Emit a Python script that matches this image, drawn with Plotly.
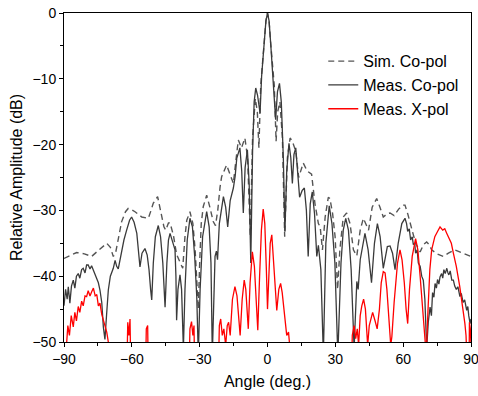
import plotly.graph_objects as go

# ---------------- data ----------------
sim_angle = [-90, -87, -84.4, -81, -77.8, -74.5, -71.1, -69.5, -68.2, -67.2, -65.5, -64.5, -62.8, -61.6,
             -60, -58.6, -55.6, -52.7, -51.5, -50.5, -48.6, -47, -45.8, -45, -43.8, -43.1, -41.6, -40.2,
             -38.7, -37.5, -36.5, -35.7, -34.3, -33, -32, -31.3, -30.6, -30, -29.3, -28.4, -26.9, -25.5,
             -24, -23, -22, -21, -20.3, -18.1, -16.5, -15.1, -14, -12.9, -11.5, -10, -8.8, -7.6, -6.6,
             -5.4, -4.5, -3.8, -3.0, -2.4, -1.4, -0.7, 0, 0.7, 1.4, 2.4, 3.0, 3.8, 4.5, 5.5, 6.6, 7.6,
             8.8, 10, 11, 12.5, 13.8, 15.8, 17.5, 19.5, 21, 22.5, 23.3, 24.3, 25.5, 26.9, 27.6, 28.8,
             29.9, 31, 32, 33.5, 35, 36.5, 38, 39.5, 41, 42.4, 43.5, 44.7, 46.3, 48.3, 49.7, 51.2, 53,
             54.2, 56, 58, 59.8, 60.8, 62, 63.8, 65.5, 67.5, 69, 70.4, 71.5, 72.6, 75, 77.8, 80, 82.9,
             86.6, 90]
sim_db = [-37.3, -36.8, -36.4, -36.6, -37.0, -36.0, -35.0, -35.6, -37.0, -36.5, -33.5, -31.7, -30.2, -29.7,
          -29.9, -30.2, -31.0, -31.2, -30.0, -28.9, -27.9, -30.5, -32.5, -33.0, -31.9, -31.9, -33.8, -36.7,
          -38.0, -38.8, -34.0, -31.5, -30.2, -32.0, -36.0, -41.6, -45.0, -38.0, -32.0, -29.4, -27.7, -29.5,
          -31.7, -32.3, -30.0, -26.5, -24.9, -23.1, -24.5, -25.9, -22.5, -19.3, -20.5, -19.0, -22.0, -34.0, -19.0,
          -13.0, -15.0, -20.5, -11.0, -8.5, -4.6, -1.2, 0.0, -1.2, -4.6, -8.5, -11.0, -19.5, -15.0, -13.5, -19.0, -34.0,
          -22.0, -19.0, -19.5, -21.0, -25.0, -22.8, -24.0, -24.5, -29.0, -32.0, -32.5, -36.0, -31.0, -28.0, -28.2, -30.5,
          -34.0, -42.0, -36.0, -31.0, -30.4, -32.0, -36.0, -36.9, -33.0, -31.2, -32.0, -33.0, -29.5, -28.2, -29.5, -31.0, -30.5,
          -30.4, -30.8, -29.8, -29.2, -29.2, -30.5, -33.0, -35.0, -36.3, -35.2, -34.8, -35.2, -36.0, -36.6, -37.0, -36.5, -36.0,
          -36.5, -37.0]

co_angle = [-90, -89.3, -88.6, -88.1, -87.4, -86.7, -85.9, -85.2, -84.5, -83.7, -83, -82.2, -81.5, -80.7,
            -80, -79.3, -78.5, -77.8, -77, -76.2, -75.5, -74.8, -74.1, -73.3, -72.6, -71.9, -71.2, -70.4,
            -69.5, -68.2, -67.4, -66.7, -66, -65.2, -64.5, -63.5, -62.3, -61, -60.1, -59, -57.8, -57,
            -56.4, -55.5, -54.2, -53.2, -52.4, -51.7, -51.2, -50.5, -49.6, -48.3, -47.3, -46.3, -45.3,
            -44.5, -43.8, -43.1, -42.2, -40.9, -40.5, -40.2, -39.6, -38.7, -38, -37.2, -36.5, -35.5,
            -34.3, -33.2, -32.2, -31.3, -30.6, -29.8, -28.7, -26.9, -25.8, -25, -24.4, -23.8, -23.2,
            -22.6, -22.1, -21.3, -19.5, -18.5, -17.6, -16.5, -15.1, -14.3, -13.6, -12.2, -11.4, -10.7,
            -9.9, -8.9, -8.1, -7.4, -6.6, -5.9, -5.2, -4.4, -3.3, -2.6, -1.4, -0.7, 0, 0.7, 1.4, 2.4,
            3.6, 4.4, 5.3, 6.1, 7, 7.7, 8.5, 9.5, 10.3, 11, 11.7, 12.5, 13.3, 14.2, 15.3, 16.3, 17.2, 18,
            18.9, 19.8, 20.8, 21.8, 22.5, 23.6, 24.7, 25.8, 27.3, 28.5, 29.8, 31.1, 32.5, 33.5, 34.6,
            35.8, 37, 38.3, 39.5, 40.1, 41, 43.1, 44.5, 46, 47.3, 48.6, 49.8, 51.2, 52.2, 53, 54.2, 55.3,
            56.4, 57.8, 59.4, 60.8, 61.5, 62, 62.7, 63.3, 64, 64.5, 65.1, 65.5, 66.2, 66.7, 67.5, 68.2,
            68.9, 69.6, 70.4, 71.1, 71.9, 72.5, 73, 73.6, 74.1, 74.7, 75.2, 75.8, 76.3, 77, 77.5, 78,
            78.6, 79.3, 79.8, 80.2, 80.8, 81.5, 82.2, 82.8, 83.5, 84.2, 85.1, 85.7, 86.5, 87.2, 88.1,
            88.6, 89, 89.6, 90]
co_db = [-44.5, -42.0, -43.5, -41.6, -44.1, -41.5, -40.6, -41.8, -40.0, -39.6, -40.3, -39.0, -38.8, -39.5,
         -38.3, -38.3, -38.9, -38.4, -39.1, -39.8, -40.6, -41.0, -42.1, -44.0, -47.7, -49.6, -46.0, -42.1,
         -40.0, -38.8, -37.6, -38.5, -38.9, -37.5, -36.0, -34.5, -33.0, -31.5, -31.0, -31.8, -33.5, -36.0,
         -38.6, -36.5, -35.8, -36.8, -39.0, -42.0, -43.6, -38.0, -34.0, -32.3, -34.0, -38.0, -44.7,
         -38.0, -34.5, -33.5, -34.5, -36.0, -40.0, -46.7, -42.0, -39.8, -42.0, -51.0, -42.0, -34.5,
         -31.2, -32.5, -37.0, -43.0, -52.0, -42.0, -34.0, -30.2, -32.5, -38.0, -52.0, -42.0, -37.0,
         -36.2, -37.5, -32.0, -27.9, -29.5, -32.5, -28.5, -26.6, -24.8, -22.1, -20.5, -24.0, -30.4,
         -23.5, -20.8, -26.0, -38.0, -21.0, -13.5, -11.4, -12.5, -15.2, -9.6, -4.6, -1.2, 0.0, -1.2, -4.6, -9.6,
         -16.2, -12.0, -10.7, -13.5, -22.0, -33.2, -24.0, -19.8, -22.0, -25.9, -21.5, -20.5, -23.5, -28.0, -27.0, -26.6, -30.0, -37.0,
         -29.0, -27.2, -30.5, -37.0, -35.3, -39.0, -52.0, -35.0, -29.3, -32.0, -38.0, -52.0, -38.0, -33.0, -31.2,
         -33.0, -39.0, -51.0, -40.8, -42.0, -37.5, -33.5, -36.0, -41.0, -35.0, -32.0, -34.0, -38.8, -37.0, -35.5, -35.4, -36.5,
         -39.0, -35.0, -32.0, -31.2, -32.0, -33.2, -32.8, -34.5, -34.0, -35.2, -35.0, -36.5, -36.0, -38.0, -38.5, -40.0,
         -40.6, -43.5, -51.0, -47.0, -44.7, -46.0, -42.5, -43.2, -41.1, -41.8, -40.5, -41.2, -40.1, -39.6, -40.3, -39.0,
         -39.6, -38.8, -39.5, -39.8, -39.2, -40.6, -40.6, -41.5, -42.0, -41.6, -43.1, -42.6, -44.0, -43.6, -45.2,
         -44.6, -46.0, -47.2, -46.5]

x_angle = [-90, -89.5, -88.8, -88.3, -87.6, -86.8, -85.9, -85.2, -84.5, -83.7, -83, -82.2, -81.5, -80.7,
           -80, -79.3, -78.5, -77.8, -77, -76.2, -75.5, -74.8, -74.1, -73.3, -72.6, -71.9, -71.1, -70.4,
           -69.8, -62.5, -61.8, -61.3, -60.8, -60.2, -54.2, -53.6, -53, -52.5, -35, -34.3, -33.6, -33,
           -32.5, -32, -22, -21.3, -20.7, -20, -19.3, -18.5, -17.8, -17.2, -16.5, -15.5, -14.4, -13.5,
           -12.8, -12.1, -11.2, -10.3, -9.6, -9, -8.5, -7.7, -6.7, -5.8, -5, -4.3, -3.5, -2.7, -1.9,
           -1.2, -0.5, 0, 0.6, 1.2, 1.9, 2.5, 3.2, 4.1, 5, 5.8, 6.5, 7, 7.7, 8.5, 9.3, 9.8, 10.3,
           36.8, 37.5, 38.3, 39, 39.7, 40.3, 41, 41.7, 42.5, 43.3, 44.3, 45, 45.8, 46.5, 47.5, 48.5,
           49.5, 50.3, 51.2, 52, 52.8, 53.6, 54.5, 55, 56, 57.5, 58.6, 59.5, 60.5, 61.3, 62, 62.8, 64,
           65.5, 66.5, 67.5, 68.5, 69.5, 70.2, 71, 71.8, 72.6, 74, 75.2, 76.3, 77.5, 78.4, 79.3, 80.5,
           81.3, 82.2, 83.5, 85, 85.9, 86.7, 87.3, 87.8, 88.2, 89, 89.3, 89.7, 90]
x_db = [-60.0, -55.0, -50.0, -47.5, -49.0, -46.0, -47.7, -45.5, -46.8, -44.6, -45.5, -43.8, -44.5, -43.0,
        -43.1, -42.2, -43.0, -42.4, -41.8, -43.0, -42.8, -44.5, -44.1, -45.8, -46.7, -47.5, -48.5, -50.0,
        -60.0, -60.0, -47.0, -49.0, -46.5, -60.0, -60.0, -48.0, -47.5, -60.0, -60.0, -48.0, -46.9, -49.0,
        -47.5, -60.0, -60.0, -47.5, -46.5, -49.0, -48.0, -50.5, -47.5, -47.0, -49.0, -43.5, -41.6, -43.0,
        -46.0, -49.0, -43.5, -40.6, -42.0, -45.0, -48.0, -41.0, -36.3, -38.5, -44.0, -48.2, -40.0, -33.0, -29.8,
        -32.0, -39.0, -45.0, -40.0, -35.0, -33.7, -36.5, -40.0, -45.2, -42.0, -41.1, -42.5, -44.1, -46.0, -49.0, -48.5, -50.5, -60.0,
        -60.0, -49.0, -47.5, -49.5, -48.0, -50.5, -46.0, -44.5, -43.5, -45.0, -50.5, -47.5, -46.5, -45.5, -46.7, -48.0,
        -45.0, -41.0, -39.3, -39.5, -42.0, -46.0, -50.5, -49.2, -44.0, -38.0, -36.0, -37.5, -41.0, -45.0, -47.2, -42.0, -37.0,
        -34.3, -36.0, -40.0, -45.0, -49.5, -52.0, -45.0, -39.0, -36.0, -34.0, -33.2, -32.5, -33.0, -32.8, -33.5, -34.5,
        -35.0, -36.5, -38.5, -41.5, -43.6, -45.5, -47.2, -49.0, -60.0, -60.0, -47.0, -48.0, -50.5]

x_ticks = [-90, -60, -30, 0, 30, 60, 90]
y_ticks = [0, -10, -20, -30, -40, -50]

# ---------------- figure ----------------
fig = go.Figure()
fig.add_trace(go.Scatter(x=sim_angle, y=sim_db, mode="lines", name="Sim. Co-pol",
                         line=dict(color="#555555", width=1.4, dash="6px,4px")))
fig.add_trace(go.Scatter(x=co_angle, y=co_db, mode="lines", name="Meas. Co-pol",
                         line=dict(color="#3a3a3a", width=1.3)))
fig.add_trace(go.Scatter(x=x_angle, y=x_db, mode="lines", name="Meas. X-pol",
                         line=dict(color="#ff0000", width=1.3)))

FONT = "Liberation Sans, Arial, sans-serif"
axis_common = dict(showgrid=False, zeroline=False, showline=True, linecolor="black", linewidth=1,
                   mirror=True, ticks="outside", ticklen=4, tickcolor="black",
                   ticklabeloverflow="allow", automargin=False,
                   tickfont=dict(family=FONT, size=14, color="black"))

fig.update_xaxes(range=[-90, 90], tickvals=x_ticks, title=dict(text="Angle (deg.)", standoff=10,
                 font=dict(family=FONT, size=16, color="black")),
                 minor=dict(dtick=15, ticks="outside", ticklen=3, tickcolor="black"),
                 **axis_common)
fig.update_yaxes(range=[-50, 0], tickvals=y_ticks, title=dict(text="Relative Amplitude (dB)", standoff=5,
                 font=dict(family=FONT, size=16, color="black")),
                 minor=dict(dtick=5, ticks="outside", ticklen=3, tickcolor="black"),
                 **axis_common)

fig.update_layout(
    width=478, height=396,
    margin=dict(l=64, r=7, t=13, b=54),
    plot_bgcolor="white", paper_bgcolor="white",
    showlegend=True,
    legend=dict(x=0.637, y=0.905, xanchor="left", yanchor="top", bgcolor="rgba(0,0,0,0)",
                font=dict(family=FONT, size=16, color="black"),
                tracegroupgap=0, itemwidth=30),
)

fig.write_html("out.html")
